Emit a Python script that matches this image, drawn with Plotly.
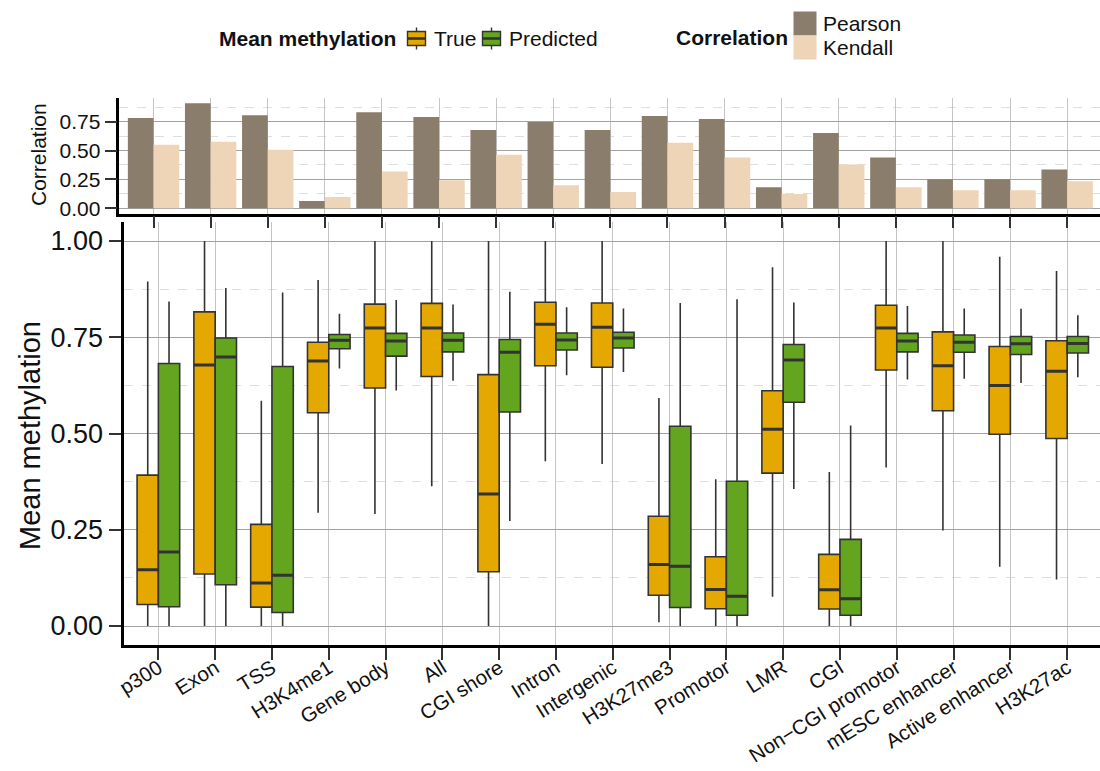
import plotly.graph_objects as go

# ---- data -------------------------------------------------------------
categories = ["p300", "Exon", "TSS", "H3K4me1", "Gene body", "All", "CGI shore",
              "Intron", "Intergenic", "H3K27me3", "Promotor", "LMR", "CGI",
              "Non\u2212CGI promotor", "mESC enhancer", "Active enhancer", "H3K27ac"]

true_lower  = [0.000, 0.000, 0.000, 0.294, 0.291, 0.363, 0.000, 0.428, 0.421, 0.010, 0.000, 0.076, 0.000, 0.412, 0.248, 0.154, 0.121]
true_q1     = [0.056, 0.135, 0.049, 0.554, 0.618, 0.648, 0.141, 0.676, 0.672, 0.080, 0.045, 0.397, 0.044, 0.665, 0.559, 0.498, 0.487]
true_median = [0.146, 0.678, 0.112, 0.688, 0.774, 0.774, 0.343, 0.784, 0.776, 0.160, 0.095, 0.511, 0.094, 0.774, 0.676, 0.625, 0.662]
true_q3     = [0.392, 0.816, 0.264, 0.737, 0.836, 0.838, 0.653, 0.841, 0.839, 0.285, 0.180, 0.611, 0.186, 0.833, 0.764, 0.726, 0.741]
true_upper  = [0.895, 1.000, 0.585, 0.899, 1.000, 1.000, 1.000, 1.000, 1.000, 0.592, 0.381, 0.932, 0.400, 1.000, 1.000, 0.959, 0.922]

pred_lower  = [0.000, 0.000, 0.000, 0.669, 0.612, 0.637, 0.273, 0.651, 0.660, 0.000, 0.000, 0.356, 0.000, 0.640, 0.642, 0.631, 0.646]
pred_q1     = [0.050, 0.107, 0.035, 0.720, 0.701, 0.712, 0.556, 0.717, 0.722, 0.048, 0.028, 0.581, 0.028, 0.712, 0.711, 0.705, 0.709]
pred_median = [0.192, 0.699, 0.132, 0.742, 0.740, 0.742, 0.711, 0.743, 0.748, 0.155, 0.077, 0.691, 0.071, 0.740, 0.737, 0.733, 0.734]
pred_q3     = [0.682, 0.748, 0.674, 0.757, 0.760, 0.761, 0.744, 0.761, 0.763, 0.519, 0.376, 0.731, 0.225, 0.760, 0.756, 0.752, 0.752]
pred_upper  = [0.843, 0.878, 0.866, 0.811, 0.847, 0.835, 0.868, 0.828, 0.825, 0.839, 0.849, 0.840, 0.521, 0.831, 0.825, 0.824, 0.807]

pearson = [0.781, 0.909, 0.806, 0.063, 0.832, 0.789, 0.678, 0.746, 0.678, 0.798, 0.772, 0.182, 0.652, 0.439, 0.251, 0.251, 0.336]
kendall = [0.550, 0.575, 0.507, 0.097, 0.319, 0.242, 0.464, 0.199, 0.140, 0.567, 0.439, 0.123, 0.379, 0.182, 0.157, 0.157, 0.234]

y_ticks = [0.0, 0.25, 0.5, 0.75, 1.0]
corr_ticks = [0.0, 0.25, 0.5, 0.75]

# ---- style ------------------------------------------------------------
W, H = 1100, 771
FONT = "Liberation Sans, Arial, Helvetica, sans-serif"
C_TRUE, C_PRED = "#E5A800", "#64A51F"
C_PEARSON, C_KENDALL = "#8B7D6B", "#EED5B7"
OUTLINE = "#333333"
GRID_MAJOR, GRID_V, GRID_MINOR = "#A3A3A3", "#C4C4C4", "#DEDEDE"
TEXT = "#111111"


def fx(px):
    return px / W


def fy(py):
    return 1 - py / H


fig = go.Figure()

# ---- box plots (True / Predicted) -------------------------------------
box_series = [
    ("True", C_TRUE, true_lower, true_q1, true_median, true_q3, true_upper),
    ("Predicted", C_PRED, pred_lower, pred_q1, pred_median, pred_q3, pred_upper),
]
for name, color, lo, q1, med, q3, up in box_series:
    fig.add_trace(go.Box(
        name=name, x=categories, q1=q1, median=med, q3=q3,
        lowerfence=lo, upperfence=up, offsetgroup=name,
        fillcolor=color, line=dict(color=OUTLINE, width=1.6),
        whiskerwidth=0, boxpoints=False, showlegend=False,
        hoverinfo="skip", xaxis="x", yaxis="y"))
    # thicker median bar drawn on top of each box
    fig.add_trace(go.Box(
        name=name + " median", x=categories, q1=med, median=med, q3=med,
        lowerfence=med, upperfence=med, offsetgroup=name,
        fillcolor=color, line=dict(color=OUTLINE, width=3),
        whiskerwidth=0, boxpoints=False, showlegend=False,
        hoverinfo="skip", xaxis="x", yaxis="y"))

# ---- correlation bars -------------------------------------------------
fig.add_trace(go.Bar(name="Pearson", x=categories, y=pearson, marker_color=C_PEARSON,
                     marker_line_width=0, showlegend=False, hoverinfo="skip",
                     xaxis="x2", yaxis="y2"))
fig.add_trace(go.Bar(name="Kendall", x=categories, y=kendall, marker_color=C_KENDALL,
                     marker_line_width=0, showlegend=False, hoverinfo="skip",
                     xaxis="x2", yaxis="y2"))

main_left, main_step = 124.3, 56.8
top_left, top_step = 119.3, 57.1

fig.update_layout(
    width=W, height=H,
    margin=dict(l=0, r=0, t=0, b=0),
    paper_bgcolor="white", plot_bgcolor="white",
    font=dict(family=FONT, color=TEXT),
    boxmode="group", boxgap=0.25, boxgroupgap=0,
    barmode="group", bargap=0.1, bargroupgap=0,
    showlegend=False,
    xaxis=dict(
        domain=[fx(main_left), 1], range=[-0.6, (W - main_left) / main_step - 0.6],
        type="category", categoryorder="array", categoryarray=categories,
        showgrid=True, gridcolor=GRID_V, gridwidth=1.2,
        showline=True, linecolor="black", linewidth=2.7,
        ticks="outside", ticklen=12, tickwidth=1.6, tickcolor=OUTLINE,
        tickangle=-32, tickfont=dict(size=20.5, color=TEXT), ticklabelstandoff=-12,
        zeroline=False, automargin=False, anchor="y"),
    yaxis=dict(
        domain=[fy(645.25), fy(221.75)], range=[-0.05, 1.05],
        tickvals=y_ticks, tickformat=".2f",
        showgrid=True, gridcolor=GRID_MAJOR, gridwidth=1.2,
        minor=dict(dtick=0.125, tick0=0.125, showgrid=True, gridcolor=GRID_MINOR,
                   griddash="dash", gridwidth=1, ticks=""),
        showline=True, linecolor="black", linewidth=2.7,
        ticks="outside", ticklen=12, tickwidth=1.6, tickcolor=OUTLINE,
        tickfont=dict(size=27, color=TEXT), ticklabelstandoff=1,
        zeroline=False, automargin=False, anchor="x"),
    xaxis2=dict(
        domain=[fx(top_left), 1], range=[-0.6, (W - top_left) / top_step - 0.6],
        type="category", categoryorder="array", categoryarray=categories,
        showgrid=True, gridcolor=GRID_V, gridwidth=1.2,
        showline=True, linecolor="black", linewidth=2.5,
        ticks="outside", ticklen=12, tickwidth=1.6, tickcolor=OUTLINE,
        showticklabels=False, zeroline=False, automargin=False, anchor="y2"),
    yaxis2=dict(
        domain=[fy(213.55), fy(98.0)], range=[-0.0455, 0.9545],
        tickvals=corr_ticks, tickformat=".2f",
        showgrid=True, gridcolor=GRID_MAJOR, gridwidth=1.2,
        minor=dict(dtick=0.125, tick0=0.125, showgrid=True, gridcolor=GRID_MINOR,
                   griddash="dash", gridwidth=1, ticks=""),
        showline=True, linecolor="black", linewidth=2.5,
        ticks="outside", ticklen=12, tickwidth=1.6, tickcolor=OUTLINE,
        tickfont=dict(size=21, color=TEXT), ticklabelstandoff=0,
        zeroline=False, automargin=False, anchor="x2"),
)

# ---- axis titles ------------------------------------------------------
annotations = [
    dict(text="Mean methylation", x=fx(30), y=fy(436), textangle=-90,
         font=dict(size=29, color=TEXT)),
    dict(text="Correlation", x=fx(39), y=fy(155), textangle=-90,
         font=dict(size=21, color=TEXT)),
]

# ---- legends ----------------------------------------------------------
shapes = []
annotations.append(dict(text="<b>Mean methylation</b>", x=fx(217), y=fy(38.5),
                        xanchor="left", font=dict(size=21, color=TEXT)))
for (label, color), kx in zip([("True", C_TRUE), ("Predicted", C_PRED)], [407.5, 482.5]):
    bw, cy = 18, 38.5
    shapes.append(dict(type="line", x0=fx(kx + bw / 2), x1=fx(kx + bw / 2),
                       y0=fy(27.5), y1=fy(49.5), line=dict(color=OUTLINE, width=1.4)))
    shapes.append(dict(type="rect", x0=fx(kx), x1=fx(kx + bw), y0=fy(cy - 7), y1=fy(cy + 7),
                       fillcolor=color, line=dict(color=OUTLINE, width=1.4)))
    shapes.append(dict(type="line", x0=fx(kx), x1=fx(kx + bw), y0=fy(cy), y1=fy(cy),
                       line=dict(color=OUTLINE, width=2.6)))
    annotations.append(dict(text=label, x=fx(kx + bw + 6), y=fy(cy), xanchor="left",
                            font=dict(size=21, color=TEXT)))

annotations.append(dict(text="<b>Correlation</b>", x=fx(674), y=fy(37.5),
                        xanchor="left", font=dict(size=21, color=TEXT)))
for (label, color), (y0, y1) in zip([("Pearson", C_PEARSON), ("Kendall", C_KENDALL)],
                                    [(11.5, 35.5), (35.5, 59.5)]):
    shapes.append(dict(type="rect", x0=fx(793.5), x1=fx(816.5), y0=fy(y1), y1=fy(y0),
                       fillcolor=color, line=dict(width=0)))
    annotations.append(dict(text=label, x=fx(821), y=fy((y0 + y1) / 2), xanchor="left",
                            font=dict(size=21, color=TEXT)))

for a in annotations:
    a.setdefault("xanchor", "center")
    a.setdefault("yanchor", "middle")
    a.setdefault("xref", "paper")
    a.setdefault("yref", "paper")
    a.setdefault("showarrow", False)
for s in shapes:
    s["xref"] = "paper"
    s["yref"] = "paper"

fig.update_layout(annotations=annotations, shapes=shapes)

fig.write_html("out.html")
